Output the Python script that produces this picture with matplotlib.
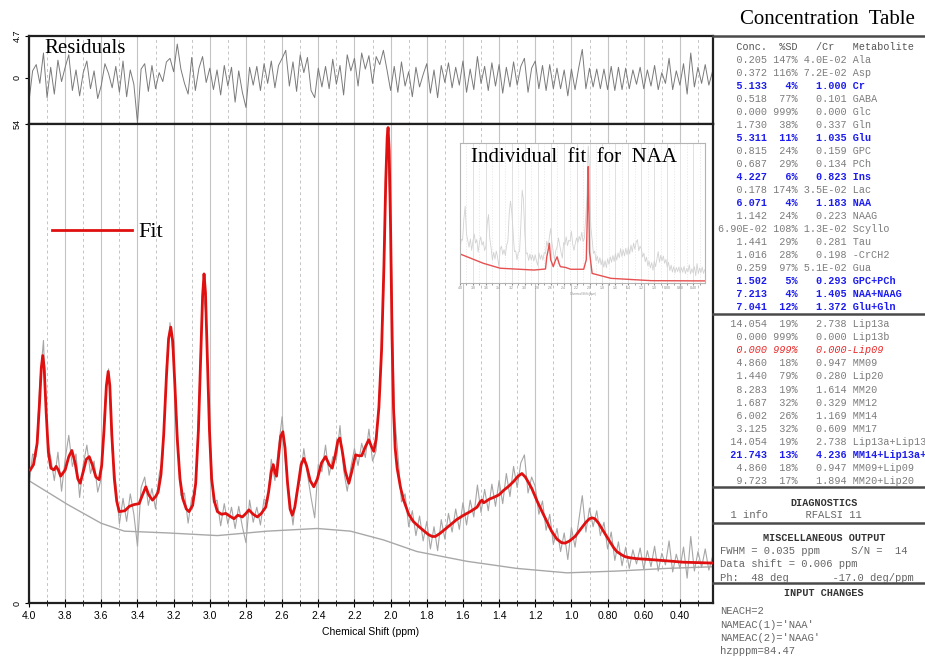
import numpy as np
import matplotlib.pyplot as plt
from matplotlib.lines import Line2D
from matplotlib.ticker import MultipleLocator

# ---- spectrum data (ppm, intensity) ----
fit_ppm = [3.993, 3.975, 3.955, 3.942, 3.932, 3.924, 3.916, 3.905, 3.893, 3.879,
           3.862, 3.850, 3.838, 3.825, 3.800, 3.780, 3.763, 3.745, 3.730, 3.717,
           3.700, 3.683, 3.667, 3.650, 3.630, 3.612, 3.598, 3.585, 3.572, 3.562,
           3.553, 3.542, 3.528, 3.515, 3.501, 3.470, 3.445, 3.418, 3.391, 3.370,
           3.354, 3.338, 3.317, 3.300, 3.286, 3.270, 3.255, 3.240, 3.228, 3.216,
           3.205, 3.193, 3.180, 3.165, 3.150, 3.130, 3.115, 3.095, 3.078, 3.063,
           3.050, 3.040, 3.032, 3.024, 3.014, 3.002, 2.990, 2.975, 2.958, 2.935,
           2.912, 2.890, 2.866, 2.845, 2.820, 2.800, 2.784, 2.760, 2.737, 2.715,
           2.691, 2.675, 2.660, 2.649, 2.638, 2.631, 2.620, 2.608, 2.596, 2.584,
           2.570, 2.556, 2.544, 2.530, 2.512, 2.495, 2.480, 2.465, 2.445, 2.425,
           2.405, 2.382, 2.360, 2.340, 2.323, 2.305, 2.292, 2.281, 2.268, 2.250,
           2.231, 2.215, 2.194, 2.175, 2.160, 2.140, 2.121, 2.105, 2.093, 2.080,
           2.065, 2.050, 2.037, 2.027, 2.019, 2.014, 2.008, 2.000, 1.992, 1.984,
           1.975, 1.964, 1.945, 1.928, 1.900, 1.875, 1.854, 1.820, 1.790, 1.770,
           1.753, 1.730, 1.700, 1.670, 1.635, 1.596, 1.560, 1.522, 1.505, 1.495,
           1.485, 1.477, 1.455, 1.431, 1.400, 1.375, 1.345, 1.320, 1.295, 1.274,
           1.255, 1.235, 1.219, 1.190, 1.160, 1.136, 1.110, 1.080, 1.055, 1.035,
           1.010, 0.980, 0.952, 0.920, 0.900, 0.887, 0.870, 0.850, 0.823, 0.790,
           0.765, 0.749, 0.720, 0.700, 0.676, 0.640, 0.600, 0.565, 0.500, 0.440,
           0.382, 0.300, 0.216]
fit_val = [15.0, 15.6, 18.0, 22.5, 26.5, 27.9, 26.5, 21.5, 17.0, 15.2,
           15.0, 15.4, 15.0, 14.3, 15.0, 16.5, 17.2, 15.8, 14.0, 13.5,
           14.8, 16.2, 16.5, 15.6, 14.2, 13.9, 15.5, 19.5, 24.5, 26.1,
           24.5, 19.0, 14.0, 11.5, 10.3, 10.4, 10.9, 11.1, 11.2, 12.3,
           13.1, 12.2, 11.6, 12.0, 12.5, 14.5, 19.0, 25.5, 29.8, 31.1,
           29.5, 24.5, 18.5, 14.0, 11.8, 10.6, 10.3, 11.0, 13.5, 19.5,
           28.0, 34.5, 37.1, 35.0, 28.0, 19.5, 14.0, 11.5, 10.3, 10.0,
           10.1, 9.8, 9.5, 9.9, 9.7, 10.1, 10.5, 10.0, 9.7, 10.1,
           10.8, 12.5, 14.8, 15.6, 14.6, 14.3, 16.5, 18.8, 19.3, 17.5,
           13.5, 10.6, 9.9, 10.8, 13.2, 15.6, 16.3, 15.5, 13.8, 13.1,
           14.0, 15.8, 16.5, 15.6, 15.2, 16.8, 18.3, 18.6, 17.2, 14.8,
           13.5, 14.8, 16.7, 16.6, 16.6, 17.6, 18.4, 17.6, 17.1, 18.5,
           22.0, 28.5, 38.0, 47.5, 52.5, 53.6, 51.0, 42.0, 30.0, 22.0,
           17.5, 15.2, 13.0, 11.6, 10.0, 9.2, 8.8, 8.2, 7.7, 7.5,
           7.5, 7.8, 8.3, 8.8, 9.4, 9.9, 10.3, 10.8, 11.4, 11.6,
           11.3, 11.4, 11.7, 11.9, 12.2, 12.7, 13.2, 13.7, 14.3, 14.6,
           14.2, 13.5, 12.9, 11.5, 10.2, 9.2, 8.1, 7.2, 6.8, 6.75,
           7.0, 7.5, 8.25, 9.1, 9.5, 9.6, 9.5, 9.0, 8.1, 7.0,
           6.2, 5.8, 5.4, 5.2, 5.1, 5.0, 4.95, 4.9, 4.8, 4.7,
           4.6, 4.55, 4.5]

base_ppm = [3.993, 3.786, 3.602, 3.473, 3.234, 2.958, 2.682, 2.406, 2.222,
            2.038, 1.854, 1.578, 1.302, 1.025, 0.749, 0.473, 0.200]
base_val = [13.7, 11.1, 9.0, 8.1, 7.9, 7.6, 8.1, 8.4, 8.1,
            7.1, 5.8, 4.7, 3.9, 3.4, 3.6, 3.9, 4.1]

# measured spectrum, sampled every 0.02 ppm from 4.00 down to 0.22
data_ppm = np.linspace(4.0, 0.22, 190)
data_val = [13.2, 16.8, 16.5, 24.8, 29.6, 19.0, 16.4, 13.8, 17.0, 12.6,
            16.2, 18.9, 15.4, 16.8, 11.9, 15.6, 17.8, 14.6, 16.0, 12.5,
            14.1, 22.8, 26.4, 17.2, 13.6, 8.9, 11.8, 9.2, 12.3, 10.0,
            6.4, 13.0, 14.2, 11.0, 12.9, 10.6, 14.5, 16.3, 26.8, 31.6,
            27.2, 19.6, 12.1, 12.4, 9.0, 11.9, 12.2, 22.6, 35.8, 32.1,
            19.4, 11.3, 11.6, 8.7, 11.2, 8.9, 10.8, 8.4, 10.9, 8.6,
            6.8, 11.6, 9.1, 10.8, 8.8, 11.7, 11.4, 16.2, 13.8, 17.6,
            21.0, 15.4, 12.2, 8.8, 12.6, 13.9, 17.4, 14.5, 11.9, 9.6,
            15.6, 14.8, 17.8, 14.4, 16.5, 16.1, 20.0, 15.0, 12.6, 15.3,
            17.4, 15.5, 18.0, 16.4, 19.6, 16.0, 17.2, 24.8, 33.6, 52.8,
            43.2, 21.6, 16.8, 11.4, 12.3, 8.6, 10.4, 7.6, 9.8, 7.0,
            9.2, 6.1, 8.6, 5.9, 9.4, 7.2, 10.1, 8.0, 10.6, 8.3,
            11.3, 8.8, 11.6, 9.7, 13.3, 10.2, 12.8, 10.4, 13.4, 10.9,
            13.8, 11.2, 14.6, 12.0, 15.4, 13.0, 15.8, 16.7, 12.4, 14.2,
            13.1, 10.0, 11.5, 8.2, 10.0, 6.6, 8.4, 5.8, 7.9, 4.9,
            8.5, 6.3, 9.2, 12.1, 8.0, 10.7, 8.6, 10.4, 7.6, 9.1,
            6.1, 8.0, 4.8, 6.9, 4.2, 6.3, 3.9, 6.0, 4.4, 6.2,
            3.8, 5.9, 4.1, 6.4, 3.6, 5.6, 4.3, 7.0, 3.5, 5.5,
            3.9, 6.3, 2.8, 7.5, 3.6, 5.8, 4.0, 6.1, 3.7, 5.2]

resid_val = [-2.6, 0.8, 1.5, -0.6, 2.8, -2.2, 1.2, -1.8, 2.0, -0.4,
             1.2, 2.6, -1.4, 0.9, -2.0, 0.6, 1.9, -1.2, 0.8, -2.3,
             -0.8, 1.6, 0.5, -1.1, 1.3, -1.6, 1.9, -2.1, 0.9, -0.7,
             -5.0, 1.0, 1.6, -1.5, 1.4, -1.2, 0.6, -0.4, 1.8, 2.2,
             0.7, 3.8, 1.0, -0.6, -1.8, 2.3, -1.4, 1.1, 2.4, -0.5,
             1.1, -1.3, 0.9, -1.9, 1.4, -0.9, 1.2, -2.7, 0.8, -1.6,
             -3.3, 1.2, -0.8, 1.3, -1.4, 1.6, -0.6, 1.9, -1.1, 1.4,
             2.2, 3.1, -0.9, 1.8, -1.5, 2.6, 0.6, 2.3, -1.4, -2.2,
             1.1, -1.0, 1.3, -1.2, 2.1, -0.7, 1.4, -1.9, 2.6, 0.8,
             2.2, -0.9, 2.8, 1.0, 2.5, -0.6, 2.4, 1.5, 3.1, 0.9,
             -1.4, 1.3, -1.6, 1.8, -0.9, 0.7, -2.1, 1.2, -1.0, 0.4,
             1.6, -1.7, 0.9, -2.2, 1.4, -0.5, 1.7, -1.1, 1.2, -0.8,
             1.9, -1.6, 1.0, -1.3, 2.4, -0.6, 1.3, -1.4, 1.7, -0.9,
             1.5, -1.7, 1.2, -1.0, 1.8, -0.8, 1.3, 2.2, -1.6, 1.1,
             1.9, -1.2, 1.4, -1.4, 1.5, -1.2, 1.1, -1.2, 0.9, -2.0,
             1.0, -1.3, 1.1, 3.2, -1.2, 1.1, -1.0, 1.0, -1.2, 1.0,
             -1.3, 1.3, -1.4, 1.2, -1.3, 1.1, -1.2, 0.9, -0.7, 1.2,
             -1.2, 0.9, -0.9, 1.4, -1.3, 0.6, -0.6, 2.2, -1.3, 0.8,
             -0.8, 1.6, -1.8, 2.8, -1.0, 1.2, -0.6, 1.5, -0.8, 0.7]

# NAA component alone (inset)
naa_ppm = [4.00, 3.64, 3.38, 2.86, 2.68, 2.66, 2.64, 2.62, 2.60, 2.56, 2.53, 2.50,
           2.47, 2.45, 2.37, 2.29, 2.09, 2.05, 2.03, 2.02, 2.01, 2.00, 1.96,
           1.67, 1.05, 0.20]
naa_val = [11.2, 7.6, 5.7, 5.0, 5.4, 10.1, 12.5, 15.3, 9.0, 6.3, 8.5, 10.1,
           7.5, 6.3, 6.0, 5.3, 5.3, 9.0, 30.0, 44.9, 30.0, 12.0, 3.7,
           1.8, 0.9, 0.8]

tick_pos = [4.0, 3.8, 3.6, 3.4, 3.2, 3.0, 2.8, 2.6, 2.4, 2.2, 2.0, 1.8, 1.6,
            1.4, 1.2, 1.0, 0.8, 0.6, 0.4]
tick_lbl = ["4.0", "3.8", "3.6", "3.4", "3.2", "3.0", "2.8", "2.6", "2.4", "2.2",
            "2.0", "1.8", "1.6", "1.4", "1.2", "1.0", "0.80", "0.60", "0.40"]

# ---- concentration table ----
met_name = ["Ala", "Asp", "Cr", "GABA", "Glc", "Gln", "Glu", "GPC", "PCh", "Ins",
            "Lac", "NAA", "NAAG", "Scyllo", "Tau", "-CrCH2", "Gua", "GPC+PCh",
            "NAA+NAAG", "Glu+Gln"]
met_conc = ["0.205", "0.372", "5.133", "0.518", "0.000", "1.730", "5.311", "0.815",
            "0.687", "4.227", "0.178", "6.071", "1.142", "6.90E-02", "1.441", "1.016",
            "0.259", "1.502", "7.213", "7.041"]
met_sd = ["147%", "116%", "4%", "77%", "999%", "38%", "11%", "24%", "29%", "6%",
          "174%", "4%", "24%", "108%", "29%", "28%", "97%", "5%", "4%", "12%"]
met_cr = ["4.0E-02", "7.2E-02", "1.000", "0.101", "0.000", "0.337", "1.035", "0.159",
          "0.134", "0.823", "3.5E-02", "1.183", "0.223", "1.3E-02", "0.281", "0.198",
          "5.1E-02", "0.293", "1.405", "1.372"]
met_blue = ["Cr", "Glu", "Ins", "NAA", "GPC+PCh", "NAA+NAAG", "Glu+Gln"]

lip_name = ["Lip13a", "Lip13b", "Lip09", "MM09", "Lip20", "MM20", "MM12", "MM14",
            "MM17", "Lip13a+Lip13b", "MM14+Lip13a+Lip13b", "MM09+Lip09", "MM20+Lip20"]
lip_conc = ["14.054", "0.000", "0.000", "4.860", "1.440", "8.283", "1.687", "6.002",
            "3.125", "14.054", "21.743", "4.860", "9.723"]
lip_sd = ["19%", "999%", "999%", "18%", "79%", "19%", "32%", "26%", "32%", "19%",
          "13%", "18%", "17%"]
lip_cr = ["2.738", "0.000", "0.000", "0.947", "0.280", "1.614", "0.329", "1.169",
          "0.609", "2.738", "4.236", "0.947", "1.894"]
lip_blue = ["MM14+Lip13a+Lip13b"]
lip_red = ["Lip09"]

diag_lines = ["  1 info      RFALSI 11"]
misc_lines = ["FWHM = 0.035 ppm     S/N =  14",
              "Data shift = 0.006 ppm",
              "Ph:  48 deg       -17.0 deg/ppm"]
input_lines = ["NEACH=2", "NAMEAC(1)='NAA'", "NAMEAC(2)='NAAG'", "hzpppm=84.47"]

W, H = 925, 657


def fx(x):
    return x / W


def fy(y):
    return 1 - y / H


plt.rcParams['font.family'] = 'Liberation Sans'
fig = plt.figure(figsize=(9.25, 6.57), dpi=100)

ax_res = fig.add_axes([fx(29), fy(124), fx(713) - fx(29), fy(36) - fy(124)])
ax = fig.add_axes([fx(29), fy(603), fx(713) - fx(29), fy(124) - fy(603)])
ax_in = fig.add_axes([fx(460), fy(283), fx(705) - fx(460), fy(143) - fy(283)])


def style_axes(a, lw=1.6, col='#202020'):
    a.set_xlim(4.0, 0.217)
    a.set_xticks(tick_pos)
    a.xaxis.set_minor_locator(MultipleLocator(0.1))
    a.grid(which='major', axis='x', color='#c4c4c4', lw=0.8)
    a.grid(which='minor', axis='x', color='#c4c4c4', lw=0.7, ls=(0, (3, 3)))
    a.set_axisbelow(True)
    for s in a.spines.values():
        s.set_linewidth(lw)
        s.set_color(col)


# residuals
style_axes(ax_res)
ax_res.plot(data_ppm, resid_val, color='#7a7a7a', lw=0.7)
ax_res.set_ylim(-5.15, 4.7)
ax_res.set_yticks([4.7, 0])
ax_res.set_yticklabels(["4.7", "0"])
ax_res.tick_params(axis='x', which='both', length=0, labelbottom=False)
ax_res.tick_params(axis='y', labelsize=6.5, labelrotation=90, length=3, pad=2)
for t in ax_res.get_yticklabels():
    t.set_va('center')
ax_res.text(0.023, 0.86, "Residuals", transform=ax_res.transAxes, family='Liberation Serif',
            fontsize=15, va='center', ha='left')

# main spectrum
style_axes(ax)
ax.plot(data_ppm, data_val, color='#a6a6a6', lw=0.8, zorder=2)
ax.plot(base_ppm, base_val, color='#a8a8a8', lw=1.0, zorder=2)
ax.plot(fit_ppm, fit_val, color='#e01010', lw=2.0, zorder=3, label='Fit')
ax.set_ylim(0, 54)
ax.set_yticks([0, 54])
ax.set_yticklabels(["0", "54"])
ax.tick_params(axis='y', labelsize=6.5, labelrotation=90, length=3, pad=2)
for t in ax.get_yticklabels():
    t.set_va('center')
ax.set_xticklabels(tick_lbl)
ax.tick_params(axis='x', which='major', direction='inout', length=6, labelsize=7.5, pad=3)
ax.tick_params(axis='x', which='minor', direction='inout', length=4)
ax.set_xlabel("Chemical Shift (ppm)", fontsize=7.5, labelpad=4)
ax.legend(loc='center left', bbox_to_anchor=(0.0336, 0.7745), frameon=False,
          borderpad=0, borderaxespad=0, handlelength=3.6, handletextpad=0.3,
          prop={'family': 'Liberation Serif', 'size': 16})

# inset: NAA alone
style_axes(ax_in, lw=0.8, col='#b4b4b4')
ax_in.set_facecolor('white')
ax_in.grid(which='major', axis='x', color='#dcdcdc', lw=0.6)
ax_in.grid(which='minor', axis='x', color='#e4e4e4', lw=0.5, ls=(0, (2, 2)))
ax_in.plot(data_ppm, data_val, color='#d2d2d2', lw=0.6)
ax_in.plot(naa_ppm, naa_val, color='#e65050', lw=1.0)
ax_in.set_ylim(0, 54)
ax_in.set_yticks([])
ax_in.set_xticklabels(tick_lbl)
ax_in.tick_params(axis='x', which='both', labelsize=2.5, length=1.5, pad=1, colors='#888888')
ax_in.set_xlabel("Chemical Shift (ppm)", fontsize=2, labelpad=1, color='#888888')
ax_in.text(0.465, 0.9, "Individual  fit  for  NAA", transform=ax_in.transAxes,
           family='Liberation Serif', fontsize=15, ha='center', va='center')

# ---- right-hand panel ----
for yy in [36, 314, 487, 523, 583]:
    fig.add_artist(Line2D([fx(713), 1.0], [fy(yy), fy(yy)], color='#4a4a4a', lw=1.8))

fig.text(fx(827), fy(20), "Concentration  Table", family='Liberation Serif', fontsize=15,
         ha='center', va='center')

mono = dict(family='Liberation Mono', fontsize=7.3, va='center', ha='left')
grey = '#7c7c7c'
blue = '#1c1cf0'
red = '#e82828'

fig.text(fx(718), fy(46.7), "   Conc.  %SD   /Cr   Metabolite", color='#555555', **mono)
for i, name in enumerate(met_name):
    line = f"{met_conc[i]:>8} {met_sd[i]:>4} {met_cr[i]:>7} {name}"
    if name in met_blue:
        fig.text(fx(718), fy(59.7 + 13.0 * i), line, color=blue, weight='bold', **mono)
    else:
        fig.text(fx(718), fy(59.7 + 13.0 * i), line, color=grey, **mono)

for i, name in enumerate(lip_name):
    y = fy(324 + 13.1 * i)
    if name in lip_red:
        line = f"{lip_conc[i]:>8} {lip_sd[i]:>4} {lip_cr[i]:>7}-{name}"
        fig.text(fx(718), y, line, color=red, style='italic', **mono)
    elif name in lip_blue:
        line = f"{lip_conc[i]:>8} {lip_sd[i]:>4} {lip_cr[i]:>7} {name}"
        fig.text(fx(718), y, line, color=blue, weight='bold', **mono)
    else:
        line = f"{lip_conc[i]:>8} {lip_sd[i]:>4} {lip_cr[i]:>7} {name}"
        fig.text(fx(718), y, line, color=grey, **mono)

head = dict(family='Liberation Mono', fontsize=7.3, va='center', ha='center',
            color='#333333', weight='bold')
low = dict(family='Liberation Mono', fontsize=7.6, va='center', ha='left', color='#666666')

fig.text(fx(824), fy(503), "DIAGNOSTICS", **head)
fig.text(fx(718), fy(515), diag_lines[0], **low)

fig.text(fx(824), fy(538), "MISCELLANEOUS OUTPUT", **head)
for i, s in enumerate(misc_lines):
    fig.text(fx(720), fy(551 + 13.3 * i), s, **low)

fig.text(fx(824), fy(593), "INPUT CHANGES", **head)
for i, s in enumerate(input_lines):
    fig.text(fx(720), fy(611 + 13.5 * i), s, **low)

fig.savefig("out.png", dpi=100)
